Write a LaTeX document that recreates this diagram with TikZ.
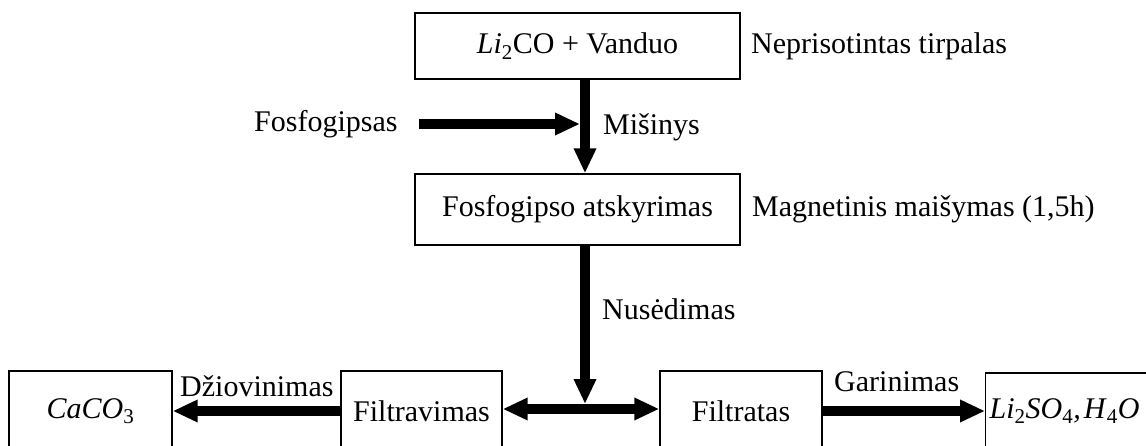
\documentclass[tikz,border=0pt]{standalone}
\usepackage{fontspec}
\setmainfont{Liberation Serif}
\usetikzlibrary{arrows.meta}
\newcommand\chemsub[1]{\textsubscript{\upshape #1}}
\tikzset{
  box/.style={draw, line width=1.4pt, inner sep=0pt, font=\fontsize{30}{35}\selectfont},
  lbl/.style={inner sep=0pt, font=\fontsize{30}{35}\selectfont, anchor=west},
  flow/.style={line width=10.5pt, -{Triangle[length=25pt,width=21pt]}}
}
\begin{document}
\begin{tikzpicture}[x=1pt,y=-1pt]
\useasboundingbox (0,0) rectangle (1146,446);
\clip (0,0) rectangle (1146,446);
% boxes
\node[box, minimum width=325pt, minimum height=66pt] (top) at (577.5,46) {\textit{Li}\chemsub{2}CO + Vanduo};
\node[box, minimum width=325pt, minimum height=71pt] (sep) at (577.5,209.5) {Fosfogipso atskyrimas};
\node[box, minimum width=163pt, minimum height=80pt] (caco) at (90.5,411) {\textit{CaCO}\chemsub{3}};
\node[box, minimum width=161pt, minimum height=80pt] (filtrav) at (421.5,411) {Filtravimas};
\node[box, minimum width=162pt, minimum height=80pt] (filtrat) at (741,411) {Filtratas};
\node[box, anchor=west, minimum height=76pt, text width=196pt, align=left, inner xsep=4pt] (li) at (985,411) {\textit{Li}\chemsub{2}\textit{SO}\chemsub{4}\textit{,\kern3pt H}\chemsub{4}\textit{O}};
% labels
\node[lbl] (nep) at (751,46) {Neprisotintas tirpalas};
\node[lbl] (mag) at (752,209) {Magnetinis maišymas (1,5h)};
\node[lbl] (mis) at (603,127) {Mišinys};
\node[lbl] (nus) at (602,309) {Nusėdimas};
\node[lbl] (fos) at (254,124) {Fosfogipsas};
\node[lbl, anchor=base west] (dzi) at (180,396) {Džiovinimas};
\node[lbl, anchor=base west] (gar) at (834,391) {Garinimas};
% coordinates
\coordinate (vx) at (585,0);
\coordinate (fstart) at (419,124);
\coordinate (fend) at (580,124);
\coordinate (junc) at (585,409);
\coordinate (jtop) at (585,404);
% connectors
\draw[flow] (vx |- top.south) -- (vx |- sep.north);
\draw[flow] (fstart) -- (fend);
\draw[flow] (vx |- sep.south) -- (jtop);
\draw[flow] (junc) -- (filtrav.east |- junc);
\draw[flow] (junc) -- (filtrat.west |- junc);
\draw[flow] (filtrav.west |- 0,411) -- (caco.east |- 0,411);
\draw[flow] (filtrat.east |- 0,411) -- (li.west |- 0,411);
\end{tikzpicture}
\end{document}
